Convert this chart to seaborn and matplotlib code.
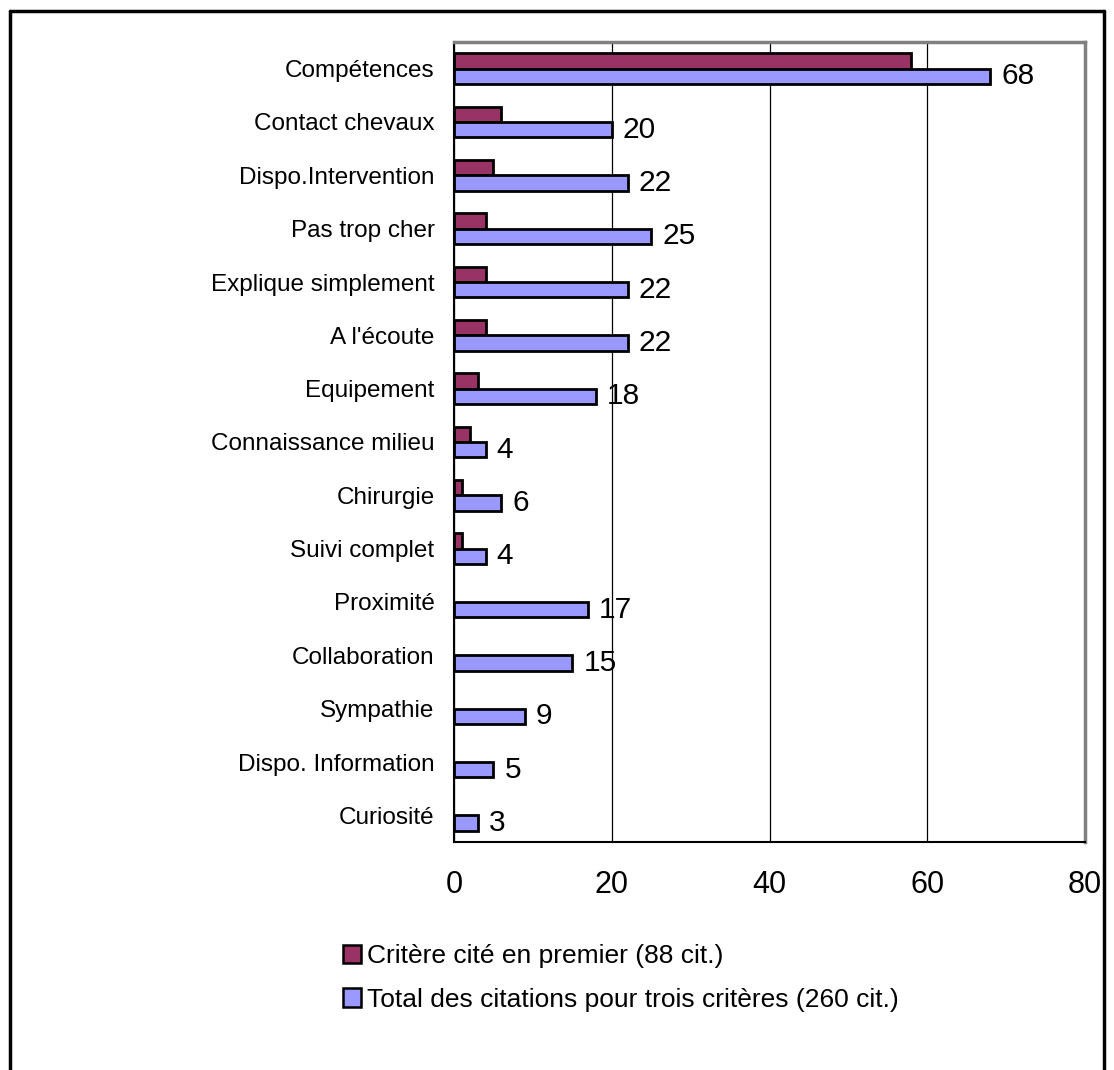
import numpy as np
import pandas as pd
import matplotlib
matplotlib.use("Agg")
import matplotlib.pyplot as plt
from matplotlib.lines import Line2D
from matplotlib.ticker import FixedLocator
import seaborn as sns

categories = ["Compétences", "Contact chevaux", "Dispo.Intervention", "Pas trop cher",
              "Explique simplement", "A l'écoute", "Equipement", "Connaissance milieu",
              "Chirurgie", "Suivi complet", "Proximité", "Collaboration", "Sympathie",
              "Dispo. Information", "Curiosité"]
premier = [58, 6, 5, 4, 4, 4, 3, 2, 1, 1, None, None, None, None, None]
total = [68, 20, 22, 25, 22, 22, 18, 4, 6, 4, 17, 15, 9, 5, 3]
series_names = ["Critère cité en premier (88 cit.)",
                "Total des citations pour trois critères (260 cit.)"]
colors = ["#993366", "#9999FF"]
x_ticks = [0, 20, 40, 60, 80]

df = pd.DataFrame({
    "cat": categories * 2,
    "val": [np.nan if v is None else v for v in premier] + total,
    "serie": [series_names[0]] * len(categories) + [series_names[1]] * len(categories),
})

sns.set_style("white")
plt.rcParams["font.family"] = ["Liberation Sans", "DejaVu Sans"]
plt.rcParams["text.color"] = "black"

fig = plt.figure(figsize=(11.14, 10.70), dpi=100)
ax = fig.add_axes([454 / 1114, 1 - 842 / 1070, (1085 - 454) / 1114, (842 - 42) / 1070])

sns.barplot(data=df, y="cat", x="val", hue="serie", orient="h", order=categories,
            hue_order=series_names, palette=colors, width=0.58, gap=0,
            edgecolor="black", linewidth=2, saturation=1, ax=ax, legend=False,
            errorbar=None)

ax.bar_label(ax.containers[1], labels=[str(v) for v in total], padding=8,
             fontsize=21.5, color="black")

ax.set_xlim(0, 80)
ax.set_ylim(len(categories) - 0.5, -0.5)
ax.xaxis.set_major_locator(FixedLocator(x_ticks))
ax.set_xticklabels([str(t) for t in x_ticks], fontsize=22)
ax.tick_params(axis="x", direction="out", length=7, width=1.2, color="black", pad=13,
               labelcolor="black")
ax.tick_params(axis="y", which="major", length=0, labelsize=17.5, pad=14, labelcolor="black")
ax.yaxis.set_minor_locator(FixedLocator(np.arange(-0.5, len(categories), 1)))
ax.tick_params(axis="y", which="minor", direction="out", length=7, width=1.2, color="#555555")
ax.set_xlabel("")
ax.set_ylabel("")
ax.grid(axis="x", color="black", linewidth=0.9)
ax.grid(axis="y", visible=False)
ax.set_axisbelow(True)
for s in ["left", "bottom"]:
    ax.spines[s].set_color("black")
    ax.spines[s].set_linewidth(1.5)
for s in ["top", "right"]:
    ax.spines[s].set_color("#808080")
    ax.spines[s].set_linewidth(2.5)

handles = [plt.Rectangle((0, 0), 1, 1, facecolor=c, edgecolor="black", linewidth=1.8) for c in colors]
fig.legend(handles, series_names, loc="upper left", bbox_to_anchor=(343 / 1114, 1 - 944 / 1070),
           frameon=False, fontsize=19, handlelength=0.68, handleheight=0.68,
           handletextpad=0.23, labelspacing=0.75, borderpad=0, borderaxespad=0)

bx0, bx1, by1 = 10 / 1114, 1104 / 1114, 1 - 11 / 1070
for xs, ys in [([bx0, bx0], [0, by1]), ([bx0, bx1], [by1, by1]), ([bx1, bx1], [0, by1])]:
    fig.add_artist(Line2D(xs, ys, transform=fig.transFigure, color="black", linewidth=2.5))

fig.savefig("out.png", dpi=100, facecolor="white")
